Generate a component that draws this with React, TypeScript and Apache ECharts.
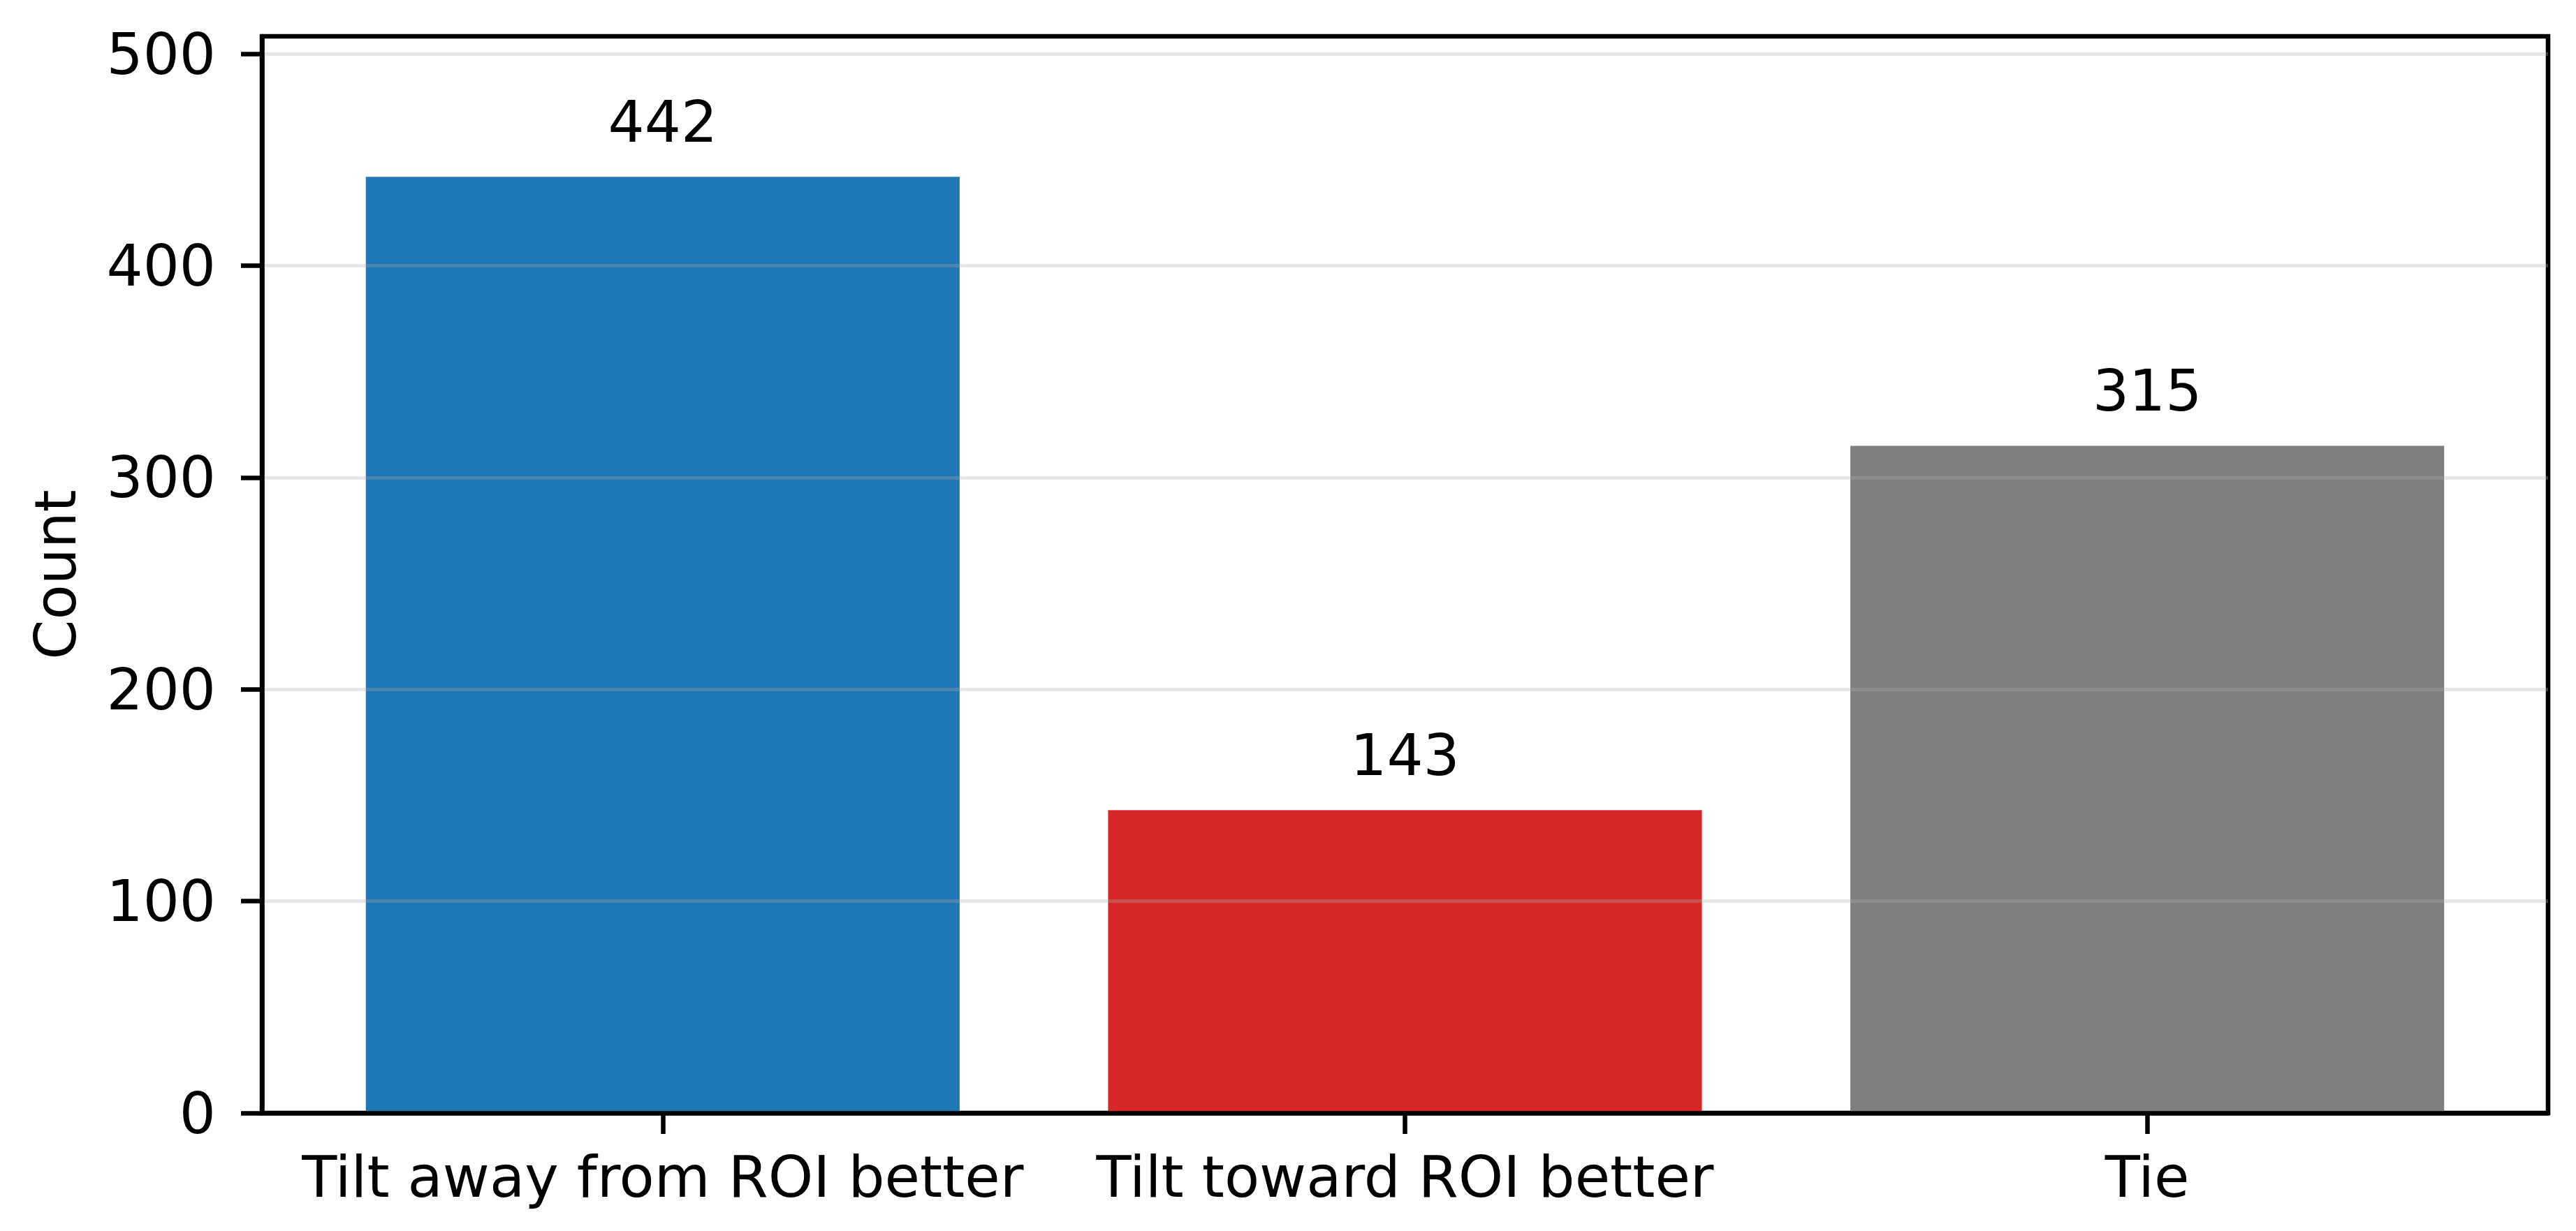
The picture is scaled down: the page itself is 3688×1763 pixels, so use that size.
import React, { useEffect, useRef } from "react";
import * as echarts from "echarts";

const categories = ["Tilt away from ROI better", "Tilt toward ROI better", "Tie"];
const counts = [442, 143, 315];
const barColors = ["#1f77b4", "#d62728", "#7f7f7f"];
const yTicks = [0, 100, 200, 300, 400, 500];
const xTicks = [0, 1, 2];

const W = 3688;
const H = 1763;
const FONT = "DejaVu Sans";
const FS = 82;

export default function App() {
  const ref = useRef<HTMLDivElement>(null);
  useEffect(() => {
    if (!ref.current) return;
    const chart = echarts.init(ref.current, null, { renderer: "svg", width: W, height: H });
    const gridLeft = 375;
    const gridRight = 40;
    const gridTop = 52;
    const gridBottom = 169;
    const xMin = -0.54;
    const xMax = 2.54;
    const yMax = 442 * 1.15;
    const plotW = W - gridLeft - gridRight;
    const barWidth = (0.8 * plotW) / (xMax - xMin);
    const lineW = 6.5;

    chart.setOption({
      animation: false,
      backgroundColor: "#ffffff",
      textStyle: { fontFamily: FONT },
      grid: {
        left: gridLeft,
        right: gridRight,
        top: gridTop,
        bottom: gridBottom,
        show: true,
        borderColor: "#000",
        borderWidth: lineW,
        backgroundColor: "transparent",
      },
      xAxis: {
        type: "value",
        min: xMin,
        max: xMax,
        z: 5,
        axisLine: { show: true, onZero: false, lineStyle: { color: "#000", width: lineW } },
        axisTick: { show: true, customValues: xTicks, length: 30, lineStyle: { color: "#000", width: lineW } },
        axisLabel: {
          customValues: xTicks,
          formatter: (v: number) => categories[Math.round(v)] ?? "",
          fontSize: FS,
          fontFamily: FONT,
          color: "#000",
          margin: 50,
          lineHeight: FS,
        },
        splitLine: { show: false },
      },
      yAxis: {
        type: "value",
        min: 0,
        max: yMax,
        z: 5,
        name: "Count",
        nameLocation: "middle",
        nameGap: 255,
        nameTextStyle: { fontSize: FS, fontFamily: FONT, color: "#000", lineHeight: FS },
        axisLine: { show: true, onZero: false, lineStyle: { color: "#000", width: lineW } },
        axisTick: { show: true, customValues: yTicks, length: 30, lineStyle: { color: "#000", width: lineW } },
        axisLabel: {
          customValues: yTicks,
          fontSize: FS,
          fontFamily: FONT,
          color: "#000",
          margin: 66,
        },
        splitLine: { show: true, lineStyle: { color: "rgba(176,176,176,0.3)", width: 5 } },
      },
      series: [
        {
          type: "bar",
          barWidth: barWidth,
          z: 2,
          data: counts.map((v, i) => ({ value: [xTicks[i], v], itemStyle: { color: barColors[i] } })),
          label: {
            show: true,
            position: "top",
            distance: 38,
            fontSize: FS,
            fontFamily: FONT,
            color: "#000",
            formatter: (p: any) => String(p.value[1]),
          },
        },
      ],
    });
    return () => chart.dispose();
  }, []);
  return (
    <div
      ref={ref}
      style={{ position: "absolute", left: 0, top: 0, width: W + "px", height: H + "px", background: "#fff" }}
    />
  );
}
